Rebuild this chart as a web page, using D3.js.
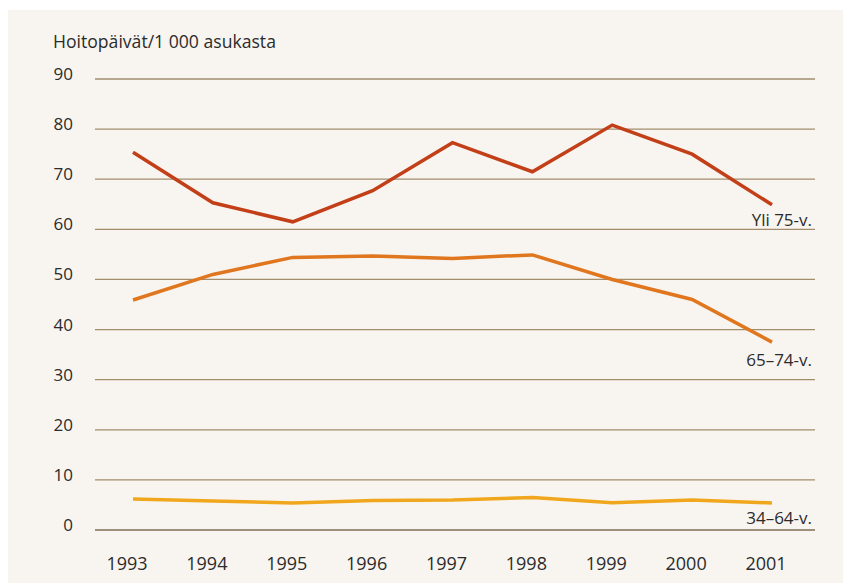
<!DOCTYPE html>
<html>
<head>
<meta charset="utf-8">
<script src="https://cdn.jsdelivr.net/npm/d3@7"></script>
<style>
  body { margin: 0; background: #fff; }
  svg { display: block; }
  text { font-family: "Open Sans", "Noto Sans", sans-serif; fill: #2b2b2b; }
</style>
</head>
<body>
<svg id="chart" width="843" height="584"></svg>
<script>
const years = [1993, 1994, 1995, 1996, 1997, 1998, 1999, 2000, 2001];
const yli75 = [75.4, 65.3, 61.5, 67.7, 77.3, 71.5, 80.8, 75.0, 64.9];
const v65_74 = [45.9, 51.0, 54.4, 54.7, 54.2, 54.9, 50.0, 46.0, 37.5];
const v34_64 = [6.2, 5.8, 5.4, 5.9, 6.0, 6.5, 5.45, 6.0, 5.4];
const yTicks = [0, 10, 20, 30, 40, 50, 60, 70, 80, 90];
const seriesNames = ['Yli 75-v.', '65–74-v.', '34–64-v.'];
const seriesColours = ['#c23f18', '#e0761e', '#f0a71e'];
const yTitle = 'Hoitopäivät/1 000 asukasta';

const series = [yli75, v65_74, v34_64].map((values, i) => ({
  name: seriesNames[i],
  colour: seriesColours[i],
  values: values.map((v, j) => ({ year: years[j], value: v }))
}));

const svg = d3.select('#chart');

svg.append('rect')
  .attr('x', 8).attr('y', 10)
  .attr('width', 835).attr('height', 573)
  .attr('fill', '#f8f5f1');

const x = d3.scaleLinear().domain([1993, 2001]).range([133, 772]);
const y = d3.scaleLinear().domain([0, 90]).range([530, 79]);

const gridLeft = 95;
const gridRight = 815;

// gridlines
svg.append('g')
  .selectAll('line')
  .data(yTicks)
  .join('line')
  .attr('x1', gridLeft)
  .attr('x2', gridRight)
  .attr('y1', d => y(d))
  .attr('y2', d => y(d))
  .attr('stroke', d => d === 0 ? '#7f6d52' : '#a28d6c')
  .attr('stroke-width', 1.3);

// y tick labels
svg.append('g')
  .selectAll('text')
  .data(yTicks)
  .join('text')
  .attr('x', 73)
  .attr('y', d => y(d) + 1)
  .attr('text-anchor', 'end')
  .attr('font-size', 17)
  .text(d => d);

// x tick labels
svg.append('g')
  .selectAll('text')
  .data(years)
  .join('text')
  .attr('x', d => x(d) - 6)
  .attr('y', 570)
  .attr('text-anchor', 'middle')
  .attr('font-size', 18)
  .text(d => d);

svg.append('text')
  .attr('x', 53)
  .attr('y', 48)
  .attr('font-size', 17.6)
  .text(yTitle);

const line = d3.line()
  .x(d => x(d.year))
  .y(d => y(d.value));

svg.append('g')
  .selectAll('path')
  .data(series)
  .join('path')
  .attr('d', d => line(d.values))
  .attr('fill', 'none')
  .attr('stroke', d => d.colour)
  .attr('stroke-width', 3.5)
  .attr('stroke-linejoin', 'miter');

// series labels, under the last point
const labelY = [226, 366, 524];
svg.append('g')
  .selectAll('text')
  .data(series)
  .join('text')
  .attr('x', 812)
  .attr('y', (d, i) => labelY[i])
  .attr('text-anchor', 'end')
  .attr('font-size', 17)
  .text(d => d.name);
</script>
</body>
</html>
